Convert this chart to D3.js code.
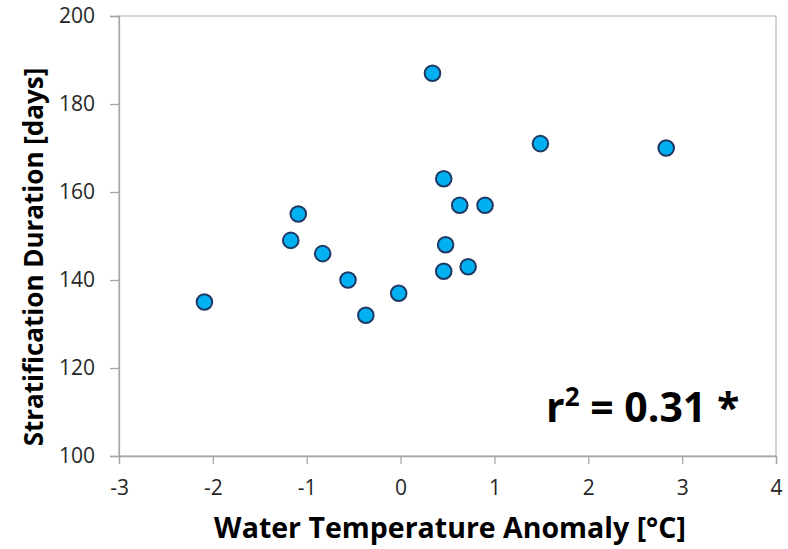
<!DOCTYPE html>
<html><head><meta charset="utf-8">
<script src="https://cdn.jsdelivr.net/npm/d3@7"></script>
<style>body{margin:0;background:#fff}svg{display:block}</style>
</head><body>
<svg id="c" width="788" height="549"></svg>
<script>
const tempAnomaly = [0.34, 0.46, 0.63, 0.90, -1.09, -1.17, -0.83, 0.48, 0.46, 0.72, -0.56, -0.02, -0.37, -2.09, 1.49, 2.83];
const stratDays   = [187, 163, 157, 157, 155, 149, 146, 148, 142, 143, 140, 137, 132, 135, 171, 170];
const xTicks = [-3, -2, -1, 0, 1, 2, 3, 4];
const yTicks = [100, 120, 140, 160, 180, 200];
const xTitle = "Water Temperature Anomaly [°C]";
const yTitle = "Stratification Duration [days]";

const svg = d3.select("#c");
const L = 119, R = 776, T = 16, B = 456;
const x = d3.scaleLinear().domain([-3, 4]).range([L, R]);
const y = d3.scaleLinear().domain([100, 200]).range([B, T]);
const font = "'Open Sans', Lato, sans-serif";
const axisCol = "#a6a6a6";

svg.append("rect").attr("x", L).attr("y", T).attr("width", R - L).attr("height", B - T)
  .attr("fill", "none").attr("stroke", "#bfbfbf").attr("stroke-width", 1.3);

const gx = svg.append("g").attr("transform", `translate(0,${B})`)
  .call(d3.axisBottom(x).tickValues(xTicks).tickSize(8).tickPadding(16).tickFormat(d => String(d)));
const gy = svg.append("g").attr("transform", `translate(${L},0)`)
  .call(d3.axisLeft(y).tickValues(yTicks).tickSize(9).tickPadding(15).tickFormat(d => String(d)));
[gx, gy].forEach(g => {
  g.select(".domain").attr("stroke", axisCol).attr("stroke-width", 1.3);
  g.selectAll(".tick line").attr("stroke", axisCol).attr("stroke-width", 1.3);
  g.selectAll(".tick text").attr("fill", "#262626").style("font-family", font).style("font-size", "21px");
});

svg.append("g").selectAll("circle").data(tempAnomaly.map((t, i) => [t, stratDays[i]]))
  .join("circle")
  .attr("cx", d => x(d[0])).attr("cy", d => y(d[1])).attr("r", 7.8)
  .attr("fill", "#00b0f0").attr("stroke", "#1f3864").attr("stroke-width", 2);

svg.append("text").attr("x", 450).attr("y", 538).attr("text-anchor", "middle")
  .style("font-family", font).style("font-weight", "bold").style("font-size", "28.5px")
  .attr("fill", "#000").text(xTitle);
svg.append("text").attr("transform", `translate(43,257) rotate(-90)`).attr("text-anchor", "middle")
  .style("font-family", font).style("font-weight", "bold").style("font-size", "26px")
  .attr("fill", "#000").text(yTitle);

const r2 = svg.append("text").attr("x", 546).attr("y", 422)
  .style("font-family", font).style("font-weight", "bold").style("font-size", "41px").attr("fill", "#000");
r2.append("tspan").text("r");
r2.append("tspan").attr("dy", -16).style("font-size", "26px").text("2");
r2.append("tspan").attr("dy", 16).text(" = 0.31 *");
</script>
</body></html>
